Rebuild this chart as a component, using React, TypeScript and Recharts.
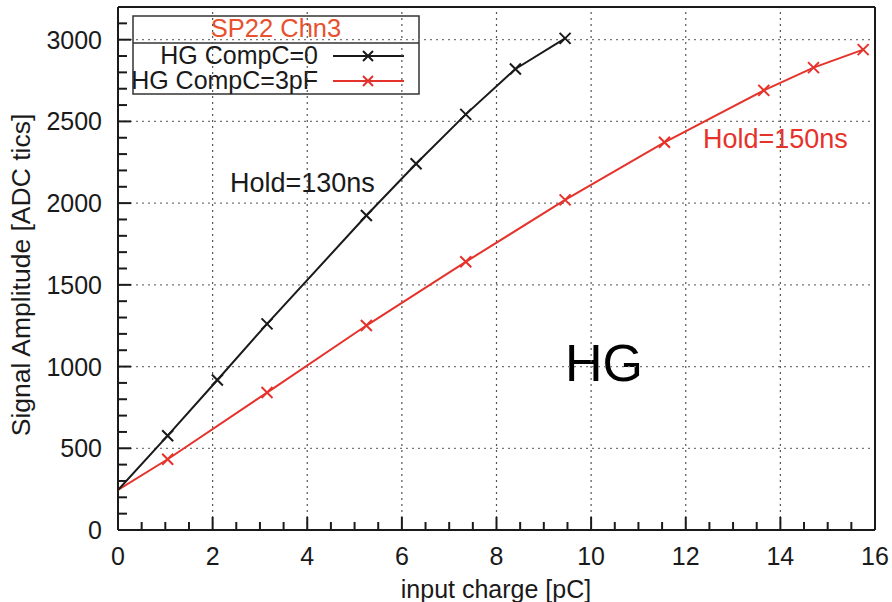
import { Line, LineChart, ReferenceLine, XAxis, YAxis } from 'recharts';

const hg0Charge = [0, 1.05, 2.1, 3.15, 5.25, 6.3, 7.35, 8.4, 9.45];
const hg0Amp = [245, 577, 918, 1261, 1924, 2241, 2543, 2821, 3008];
const hg3Charge = [0, 1.05, 3.15, 5.25, 7.35, 9.45, 11.55, 13.65, 14.7, 15.75];
const hg3Amp = [245, 433, 841, 1251, 1641, 2020, 2372, 2690, 2829, 2939];

const xTicks = Array.from({ length: 33 }, (_, i) => i * 0.5);
const yTicks = Array.from({ length: 33 }, (_, i) => i * 100);
const xGrid = [2, 4, 6, 8, 10, 12, 14];
const yGrid = [500, 1000, 1500, 2000, 2500, 3000];

const seriesNames = ['HG CompC=0', 'HG CompC=3pF'];
const titleText = 'SP22 Chn3';

const BLACK = '#1a1a1a';
const RED = '#e5332c';
const FONT = '"Liberation Sans", Arial, Helvetica, sans-serif';

const hg0 = hg0Charge.map((c, i) => ({ charge: c, amp: hg0Amp[i] }));
const hg3 = hg3Charge.map((c, i) => ({ charge: c, amp: hg3Amp[i] }));

const isMajorX = (v: number) => v % 2 === 0;
const isMajorY = (v: number) => v % 500 === 0;

// axes are 1px thick, so tick coords sit 1px off the plot border
function BottomTick({ x, y, payload }: any) {
  const major = isMajorX(payload.value);
  const y0 = y - 1;
  return (
    <g>
      <line x1={x} x2={x} y1={y0} y2={y0 - (major ? 12 : 7)} stroke={BLACK} strokeWidth={2} />
      {major && (
        <text x={x} y={y0 + 36} textAnchor="middle" fontSize={25} fill={BLACK} fontFamily={FONT}>
          {payload.value}
        </text>
      )}
    </g>
  );
}

function TopTick({ x, y, payload }: any) {
  const major = isMajorX(payload.value);
  const y0 = y + 1;
  return <line x1={x} x2={x} y1={y0} y2={y0 + (major ? 12 : 7)} stroke={BLACK} strokeWidth={2} />;
}

function LeftTick({ x, y, payload }: any) {
  const major = isMajorY(payload.value);
  const x0 = x + 1;
  return (
    <g>
      <line x1={x0} x2={x0 + (major ? 12 : 8)} y1={y} y2={y} stroke={BLACK} strokeWidth={2} />
      {major && payload.value <= 3000 && (
        <text x={x0 - 17} y={y + 9} textAnchor="end" fontSize={25} fill={BLACK} fontFamily={FONT}>
          {payload.value}
        </text>
      )}
    </g>
  );
}

function RightTick({ x, y, payload }: any) {
  const major = isMajorY(payload.value);
  const x0 = x - 1;
  return <line x1={x0} x2={x0 - (major ? 12 : 8)} y1={y} y2={y} stroke={BLACK} strokeWidth={2} />;
}

function makeCross(color: string) {
  return (props: any) => {
    const { cx, cy, index } = props;
    if (index === 0) return <g key={`d${index}`} />;
    const s = 5.5;
    return (
      <path
        key={`d${index}`}
        d={`M${cx - s},${cy - s}L${cx + s},${cy + s}M${cx - s},${cy + s}L${cx + s},${cy - s}`}
        stroke={color}
        strokeWidth={2}
        fill="none"
      />
    );
  };
}

function LegendBox() {
  const left = 133;
  const top = 16;
  const w = 286;
  const h = 78;
  return (
    <g fontFamily={FONT} fontSize={25}>
      <rect x={left} y={top} width={w} height={h} fill="#fff" stroke="#333" strokeWidth={1.5} />
      <line x1={left} x2={left + w} y1={43} y2={43} stroke="#333" strokeWidth={1.5} />
      <text x={276} y={37} textAnchor="middle" fill="#e8512e" fontSize={25.5}>
        {titleText}
      </text>
      <text x={318} y={64} textAnchor="end" fill={BLACK}>
        {seriesNames[0]}
      </text>
      <line x1={333} x2={404} y1={56} y2={56} stroke={BLACK} strokeWidth={2} />
      <path d="M363,51L373,61M363,61L373,51" stroke={BLACK} strokeWidth={2} />
      <text x={318} y={89} textAnchor="end" fill={BLACK}>
        {seriesNames[1]}
      </text>
      <line x1={333} x2={404} y1={81} y2={81} stroke={RED} strokeWidth={2} />
      <path d="M363,76L373,86M363,86L373,76" stroke={RED} strokeWidth={2} />
    </g>
  );
}

const axisLine = { stroke: BLACK, strokeWidth: 2 };

export default function App() {
  return (
    <div style={{ position: 'absolute', left: 0, top: 0, background: '#fff' }}>
      <LineChart width={892} height={602} margin={{ top: 6, right: 16, bottom: 71, left: 117 }}>
        <XAxis
          xAxisId="b"
          dataKey="charge"
          type="number"
          domain={[0, 16]}
          ticks={xTicks}
          interval={0}
          height={1}
          tickSize={0}
          tickMargin={0}
          tickLine={false}
          tick={<BottomTick />}
          axisLine={axisLine}
          allowDataOverflow
        />
        <XAxis
          xAxisId="t"
          orientation="top"
          dataKey="charge"
          type="number"
          domain={[0, 16]}
          ticks={xTicks}
          interval={0}
          height={1}
          tickSize={0}
          tickMargin={0}
          tickLine={false}
          tick={<TopTick />}
          axisLine={axisLine}
        />
        <YAxis
          yAxisId="l"
          type="number"
          domain={[0, 3200]}
          ticks={yTicks}
          interval={0}
          width={1}
          tickSize={0}
          tickMargin={0}
          tickLine={false}
          tick={<LeftTick />}
          axisLine={axisLine}
          allowDataOverflow
        />
        <YAxis
          yAxisId="r"
          orientation="right"
          type="number"
          domain={[0, 3200]}
          ticks={yTicks}
          interval={0}
          width={1}
          tickSize={0}
          tickMargin={0}
          tickLine={false}
          tick={<RightTick />}
          axisLine={axisLine}
        />
        {xGrid.map((v) => (
          <ReferenceLine key={`gx${v}`} xAxisId="b" yAxisId="l" x={v} stroke="#555" strokeDasharray="2 4" strokeWidth={1.2} />
        ))}
        {yGrid.map((v) => (
          <ReferenceLine key={`gy${v}`} xAxisId="b" yAxisId="l" y={v} stroke="#777" strokeDasharray="2 4" strokeWidth={1.2} />
        ))}
        <text x={565} y={381} fontSize={52} fill="#000" fontFamily={FONT}>
          HG
        </text>
        <text x={230} y={192} fontSize={27} fill={BLACK} fontFamily={FONT}>
          Hold=130ns
        </text>
        <text x={703} y={148} fontSize={27} fill={RED} fontFamily={FONT}>
          Hold=150ns
        </text>
        <text
          x={30}
          y={275}
          transform="rotate(-90 30 275)"
          textAnchor="middle"
          fontSize={26.5}
          fill={BLACK}
          fontFamily={FONT}
        >
          Signal Amplitude [ADC tics]
        </text>
        <text x={496} y={598} textAnchor="middle" fontSize={25} fill={BLACK} fontFamily={FONT}>
          input charge [pC]
        </text>
        <Line
          xAxisId="b"
          yAxisId="l"
          data={hg3}
          dataKey="amp"
          name={seriesNames[1]}
          type="linear"
          stroke={RED}
          strokeWidth={2}
          dot={makeCross(RED)}
          activeDot={false}
          isAnimationActive={false}
        />
        <Line
          xAxisId="b"
          yAxisId="l"
          data={hg0}
          dataKey="amp"
          name={seriesNames[0]}
          type="linear"
          stroke={BLACK}
          strokeWidth={2}
          dot={makeCross(BLACK)}
          activeDot={false}
          isAnimationActive={false}
        />
        <LegendBox />
      </LineChart>
    </div>
  );
}
